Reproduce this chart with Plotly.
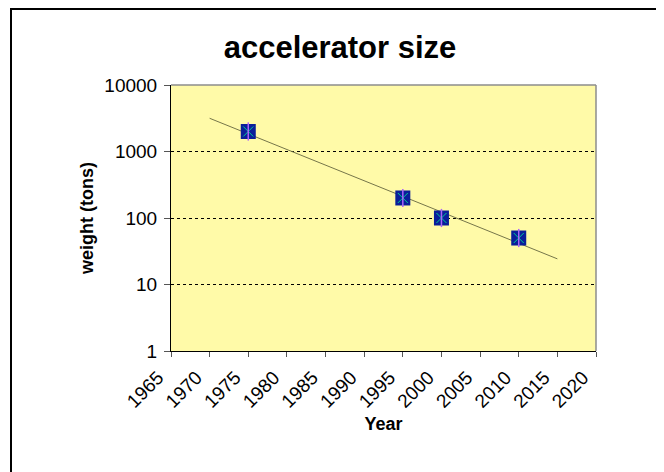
import numpy as np
import plotly.graph_objects as go

years = [1975, 1995, 2000, 2010]
weights = [2000, 200, 100, 50]
trend_years = [1970, 2015]
x_ticks = list(range(1965, 2021, 5))
y_ticks = [1, 10, 100, 1000, 10000]

# exponential trendline (least squares on log10)
coef = np.polyfit(years, np.log10(weights), 1)
trend_vals = [10 ** np.polyval(coef, t) for t in trend_years]

OFF = 8  # page body margin
W, H = 664 - OFF, 472 - OFF
L, R, T, B = 171 - OFF, 596 - OFF, 85 - OFF, 351 - OFF

def px(x):
    return (x - OFF - L) / (R - L)

def py(y):
    return (B - (y - OFF)) / (B - T)

FONT = "Liberation Sans, Arial, sans-serif"

fig = go.Figure()
fig.add_trace(go.Scatter(x=trend_years, y=trend_vals, mode="lines",
                         line=dict(color="#76764a", width=1), showlegend=False,
                         hoverinfo="skip"))
fig.add_trace(go.Scatter(x=years, y=weights, mode="markers",
                         marker=dict(symbol="square", size=15, color="#0a1e9a",
                                     line=dict(width=0)),
                         showlegend=False))
fig.add_trace(go.Scatter(x=years, y=weights, mode="markers",
                         marker=dict(symbol="x-thin-open", size=10,
                                     line=dict(color="#b8b8a0", width=1)),
                         showlegend=False, hoverinfo="skip"))
fig.add_trace(go.Scatter(x=years, y=weights, mode="markers",
                         marker=dict(symbol="line-ns-open", size=13,
                                     line=dict(color="#ffffff", width=1.5)),
                         showlegend=False, hoverinfo="skip"))

fig.update_layout(
    width=W, height=H,
    margin=dict(l=L, r=W - R, t=T, b=H - B),
    paper_bgcolor="white",
    plot_bgcolor="#fffaa8",
    font=dict(family=FONT, color="black", size=19),
    title=dict(text="<b>accelerator size</b>", font=dict(size=31, family=FONT),
               x=(340 - OFF) / W, xanchor="center", y=1 - (47 - OFF) / H,
               yanchor="middle"),
    xaxis=dict(range=[1965, 2020], tickmode="array", tickvals=x_ticks,
               ticktext=[str(v) for v in x_ticks], tickangle=-45,
               ticklabelshift=-13, ticklabelstandoff=2,
               showgrid=False, zeroline=False, showline=True, linecolor="black",
               linewidth=1, ticks="outside", ticklen=5, tickcolor="#555555",
               tickfont=dict(size=19),
               title=dict(text="<b>Year</b>", font=dict(size=18), standoff=6)),
    yaxis=dict(type="log", range=[0, 4], tickmode="array", tickvals=y_ticks,
               ticktext=[str(v) for v in y_ticks], ticklabelstandoff=3,
               showgrid=True, gridcolor="black", griddash="dot", gridwidth=1,
               zeroline=False, showline=True, linecolor="black", linewidth=1,
               ticks="outside", ticklen=6, tickcolor="#555555",
               tickfont=dict(size=19),
               title=dict(text="<b>weight (tons)</b>", font=dict(size=18),
                          standoff=6)),
    shapes=[
        dict(type="line", xref="paper", yref="paper", x0=0, x1=1, y0=1, y1=1,
             line=dict(color="#8c8c8c", width=1.5), layer="above"),
        dict(type="line", xref="paper", yref="paper", x0=1, x1=1, y0=0, y1=1,
             line=dict(color="#8c8c8c", width=1.5), layer="above"),
        dict(type="rect", xref="paper", yref="paper",
             x0=px(11), y0=py(520), x1=px(720), y1=py(9),
             line=dict(color="black", width=2), layer="above"),
    ],
)

fig.write_html("out.html")
